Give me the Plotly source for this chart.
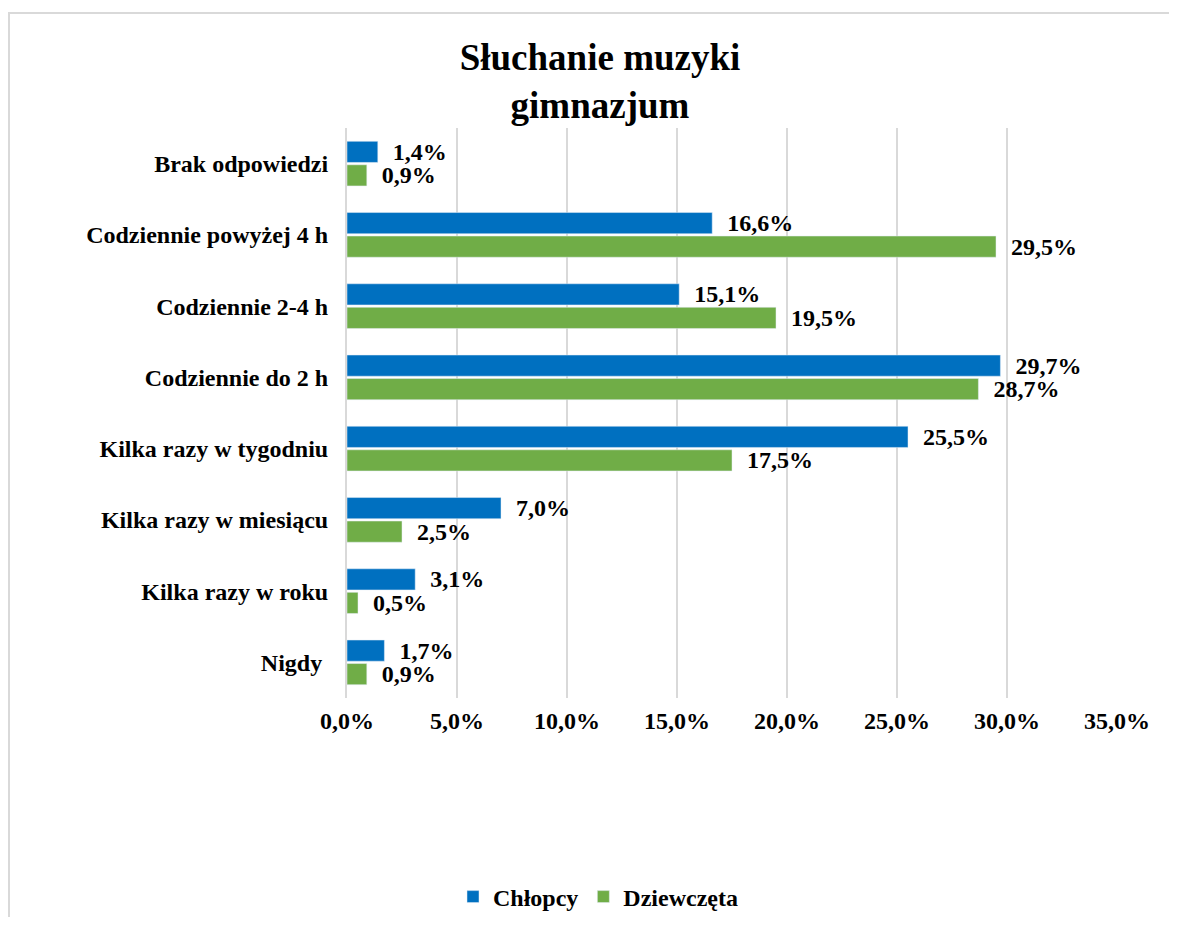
import plotly.graph_objects as go

categories = ["Brak odpowiedzi", "Codziennie powyżej 4 h", "Codziennie 2-4 h",
              "Codziennie do 2 h", "Kilka razy w tygodniu", "Kilka razy w miesiącu",
              "Kilka razy w roku", "Nigdy "]
chlopcy = [1.4, 16.6, 15.1, 29.7, 25.5, 7.0, 3.1, 1.7]
dziewczeta = [0.9, 29.5, 19.5, 28.7, 17.5, 2.5, 0.5, 0.9]
x_ticks = [0, 5, 10, 15, 20, 25, 30, 35]

FONT = "Liberation Serif, Times New Roman, serif"
# page body has an 8px default margin; figure coordinates are page - 8
W, H = 1169, 909
ML, MR, MT, MB = 339, 60, 120, 219

def fmt(v):
    return ("%.1f%%" % v).replace(".", ",")

fig = go.Figure()
for name, vals, color in [("Chłopcy", chlopcy, "#0070C0"),
                          ("Dziewczęta", dziewczeta, "#70AD47")]:
    fig.add_trace(go.Bar(
        y=categories, x=vals, orientation="h", name=name,
        marker=dict(color=color),
        text=[fmt(v) for v in vals],
        texttemplate="  %{text}", textposition="outside", cliponaxis=False,
        constraintext="none",
        textfont=dict(family=FONT, size=24, color="black", weight="bold"),
    ))

pw = W - ML - MR
ph = H - MT - MB
def px(x):
    return (x - ML) / pw
def py(y):
    return (H - MB - y) / ph

fig.update_layout(
    width=W, height=H,
    margin=dict(l=ML, r=MR, t=MT, b=MB),
    paper_bgcolor="white", plot_bgcolor="white",
    font=dict(family=FONT, color="black", size=24, weight="bold"),
    separators=",.",
    barmode="group", bargap=0.34, bargroupgap=0.1,
    title=dict(text="Słuchanie muzyki<br>gimnazjum", x=(600 - 8) / W, xref="container",
               xanchor="center", y=1 - 62 / H, yanchor="top",
               font=dict(family=FONT, size=37, color="black", weight="bold")),
    legend=dict(orientation="h", x=(598 - 8) / W, xref="container", xanchor="center",
                y=1 - (897 - 8) / H, yref="container", yanchor="middle",
                font=dict(family=FONT, size=24, color="black", weight="bold"),
                itemwidth=30, traceorder="normal"),
    xaxis=dict(range=[0, 35], tickvals=x_ticks,
               ticktext=[fmt(v) for v in x_ticks],
               showgrid=True, gridcolor="#d9d9d9", gridwidth=2,
               zeroline=False, showline=False, ticks="",
               ticklabelstandoff=6,
               tickfont=dict(family=FONT, size=24, color="black", weight="bold")),
    yaxis=dict(autorange="reversed", showgrid=False, zeroline=False,
               showline=True, linecolor="#d9d9d9", linewidth=2, ticks="",
               ticklabelstandoff=12,
               tickfont=dict(family=FONT, size=24, color="black", weight="bold")),
    shapes=[
        dict(type="line", xref="paper", yref="paper", x0=px(0), x1=px(W + 20),
             y0=py(5), y1=py(5), line=dict(color="#d9d9d9", width=2)),
        dict(type="line", xref="paper", yref="paper", x0=px(1), x1=px(1),
             y0=py(5), y1=py(H + 20), line=dict(color="#d9d9d9", width=2)),
    ],
)

fig.write_html("out.html")
